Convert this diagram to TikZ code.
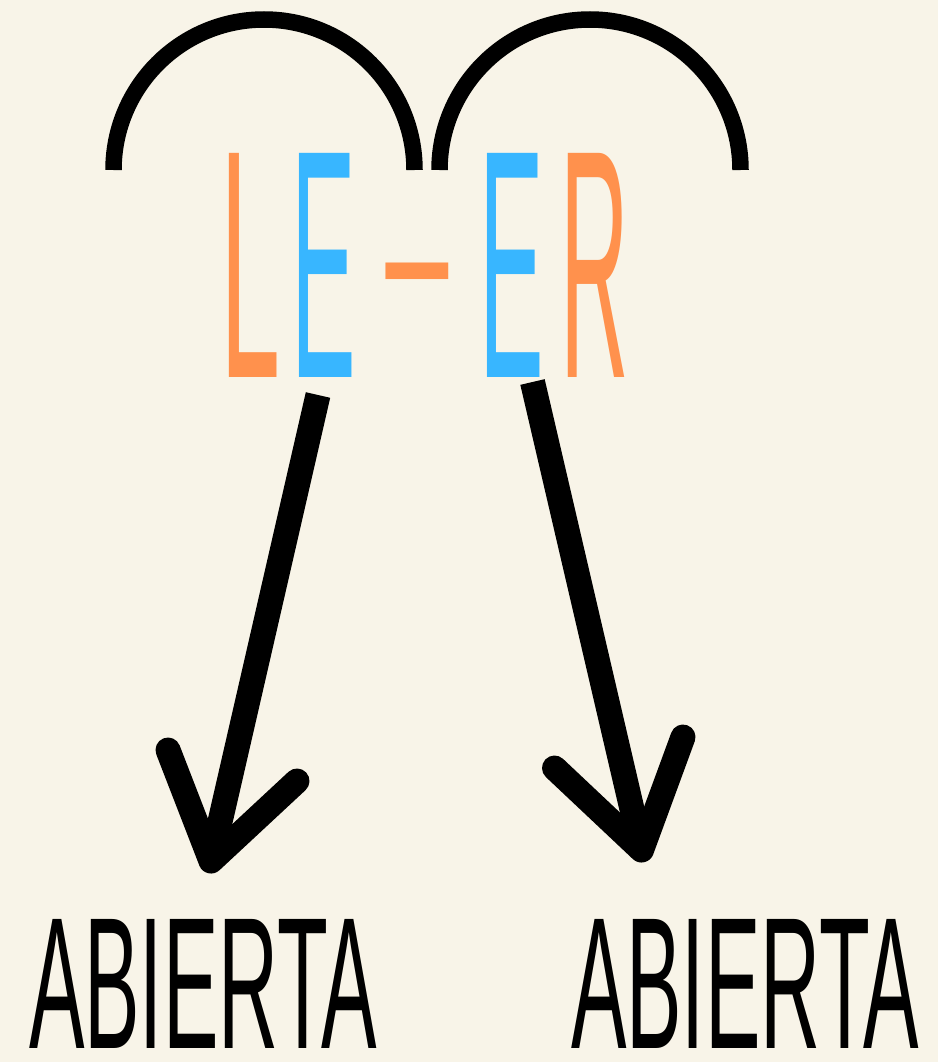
\documentclass[tikz,border=0pt]{standalone}
\usepackage{fontspec}
\setmainfont{Liberation Sans}
\usepackage{graphicx}
\definecolor{bg}{HTML}{F8F4E8}
\definecolor{lorange}{HTML}{FF914D}
\definecolor{lblue}{HTML}{38B6FF}
\begin{document}
\begin{tikzpicture}[x=1pt,y=-1pt,
  arcline/.style={line width=16.5pt, line cap=butt},
  shaft/.style={line width=25pt, line cap=butt},
  head/.style={line width=25pt, line cap=round, line join=round},
  word/.style={inner sep=0pt, outer sep=0pt, anchor=base west}]
\fill[bg] (0,0) rectangle (938,1062);
\useasboundingbox (0,0) rectangle (938,1062);
% arcs
\draw[arcline] (113.5,170) arc[start angle=180,end angle=360,radius=150.5];
\draw[arcline] (439.5,170) arc[start angle=180,end angle=360,radius=150.5];
% title
\node[word] (leer) at (220,377) {\resizebox{60pt}{224pt}{\color{lorange}L}\hspace{11pt}\resizebox{64.5pt}{224pt}{\color{lblue}E}\hspace{18.5pt}\raisebox{49.5pt}{\resizebox{85.6pt}{64.5pt}{\color{lorange}-}}\hspace{19.4pt}\resizebox{64.5pt}{224pt}{\color{lblue}E}\hspace{16.5pt}\resizebox{68.6pt}{224pt}{\color{lorange}R}};
% bottom words
\node[word] (ab1) at (29,1048) {\resizebox{348pt}{129pt}{ABIERTA}};
\node[word] (ab2) at (571,1048) {\resizebox{348pt}{129pt}{ABIERTA}};
% arrows
\coordinate (s1) at (318,395);
\coordinate (t1) at (211,861);
\coordinate (h1a) at (168,750);
\coordinate (h1b) at (297,781);
\coordinate (s2) at (532.5,382);
\coordinate (t2) at (641.5,850);
\coordinate (h2a) at (554.5,768);
\coordinate (h2b) at (683,737);
\draw[shaft] (s1) -- (t1);
\draw[head] (h1a) -- (t1) -- (h1b);
\draw[shaft] (s2) -- (t2);
\draw[head] (h2a) -- (t2) -- (h2b);
\end{tikzpicture}
\end{document}
